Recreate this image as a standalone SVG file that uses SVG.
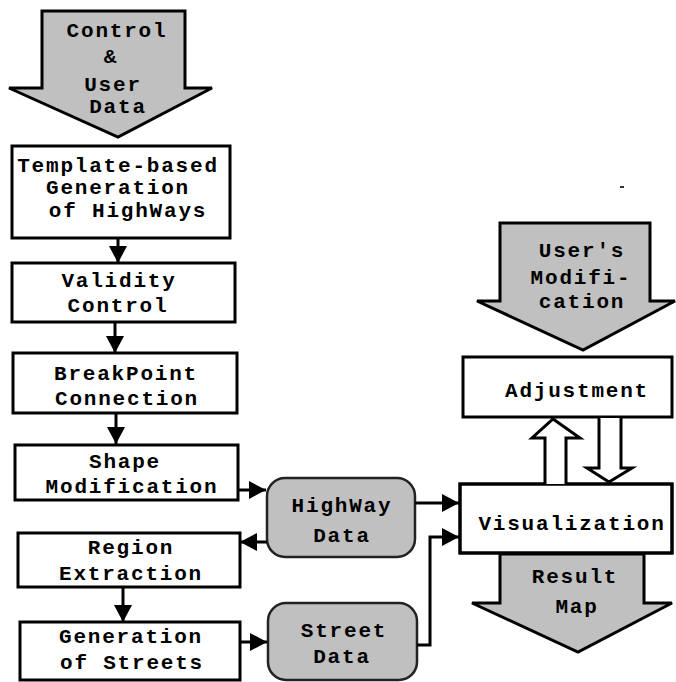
<svg xmlns="http://www.w3.org/2000/svg" width="676" height="682" viewBox="0 0 676 682">
<style>
  .box { fill: #ffffff; stroke: #000000; stroke-width: 3; }
  .data { fill: #c0c0c0; stroke: #222222; stroke-width: 2.5; }
  .big { fill: #c0c0c0; stroke: #000000; stroke-width: 3; stroke-linejoin: miter; }
  .hollow { fill: #ffffff; stroke: #000000; stroke-width: 3; }
  .conn { fill: none; stroke: #000000; stroke-width: 3; }
  text { font-family: "Liberation Mono", "DejaVu Sans Mono", monospace; font-weight: bold; font-size: 21px; letter-spacing: 1.8px; fill: #000000; text-anchor: middle; }
</style>
<defs>
  <marker id="ah" markerUnits="userSpaceOnUse" markerWidth="18" markerHeight="18" refX="17" refY="9" orient="auto">
    <path d="M0,0 L17,9 L0,18 z" fill="#000000"/>
  </marker>
</defs>
<rect width="676" height="682" fill="#ffffff"/>

<g id="control-input">
  <polygon class="big" points="42,11 185,11 185,88 212,88 118,137 9,88 42,88"/>
  <text x="117" y="37">Control</text>
  <text x="111" y="63">&amp;</text>
  <text x="113" y="91">User</text>
  <text x="118" y="113">Data</text>
</g>

<g id="template">
  <rect class="box" x="12" y="146" width="218" height="92"/>
  <text x="118" y="172">Template-based</text>
  <text x="118" y="194">Generation</text>
  <text x="128" y="217">of HighWays</text>
</g>

<g id="validity">
  <rect class="box" x="12" y="263" width="223" height="59"/>
  <text x="119" y="287">Validity</text>
  <text x="118" y="312">Control</text>
</g>

<g id="breakpoint">
  <rect class="box" x="13" y="353" width="224" height="60"/>
  <text x="126" y="380">BreakPoint</text>
  <text x="127" y="405">Connection</text>
</g>

<g id="shape">
  <rect class="box" x="15" y="445" width="223" height="55"/>
  <text x="125" y="468">Shape</text>
  <text x="132" y="493">Modification</text>
</g>

<g id="region">
  <rect class="box" x="18" y="533" width="222" height="54"/>
  <text x="131" y="554">Region</text>
  <text x="131" y="580">Extraction</text>
</g>

<g id="gen-streets">
  <rect class="box" x="20" y="622" width="220" height="58"/>
  <text x="131" y="643">Generation</text>
  <text x="132" y="669">of Streets</text>
</g>

<g id="highway-data">
  <rect class="data" x="267" y="478" width="148" height="79" rx="18" ry="18"/>
  <text x="342" y="512">HighWay</text>
  <text x="342" y="542">Data</text>
</g>

<g id="street-data">
  <rect class="data" x="268" y="603" width="149" height="77" rx="18" ry="18"/>
  <text x="344" y="637">Street</text>
  <text x="342" y="663">Data</text>
</g>

<g id="user-mod">
  <polygon class="big" points="500,223 650,223 650,301 675,301 583,350 477,301 500,301"/>
  <text x="582" y="257">User's</text>
  <text x="581" y="284">Modifi-</text>
  <text x="582" y="308">cation</text>
</g>

<g id="adjustment">
  <rect class="box" x="463" y="357" width="209" height="60"/>
  <text x="577" y="397">Adjustment</text>
</g>

<g id="visualization">
  <rect class="box" x="460" y="484" width="212" height="69"/>
  <text x="572" y="530">Visualization</text>
</g>

<g id="result-map">
  <polygon class="big" points="500,554 644,554 644,603 672,603 578,652 472,603 500,603"/>
  <rect x="460" y="484" width="212" height="69" fill="none" stroke="#000" stroke-width="3"/>
  <text x="575" y="583">Result</text>
  <text x="577" y="613">Map</text>
</g>

<g id="connectors">
  <line class="conn" x1="118" y1="238" x2="118" y2="263" marker-end="url(#ah)"/>
  <line class="conn" x1="115" y1="322" x2="115" y2="353" marker-end="url(#ah)"/>
  <line class="conn" x1="116" y1="413" x2="116" y2="444" marker-end="url(#ah)"/>
  <line class="conn" x1="238" y1="490" x2="266" y2="490" marker-end="url(#ah)"/>
  <line class="conn" x1="267" y1="542" x2="240" y2="542" marker-end="url(#ah)"/>
  <line class="conn" x1="123" y1="587" x2="123" y2="622" marker-end="url(#ah)"/>
  <line class="conn" x1="240" y1="642" x2="267" y2="642" marker-end="url(#ah)"/>
  <line class="conn" x1="415" y1="503" x2="459" y2="503" marker-end="url(#ah)"/>
  <path class="conn" d="M417,645 H430 V537 H459" marker-end="url(#ah)"/>
  <path class="hollow" d="M545,484 V438 H532 L553,419 L580,438 H566 V484"/>
  <path class="hollow" d="M599,418 V468 H587 L609,482 L632,468 H621 V418"/>
</g>

<rect x="620" y="186" width="4" height="2" fill="#333333"/>
</svg>
